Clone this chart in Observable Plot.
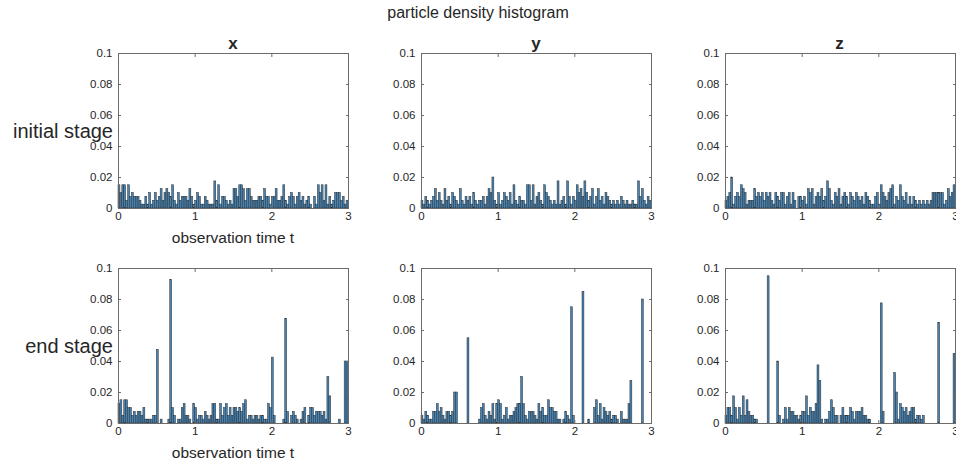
<!DOCTYPE html>
<html><head><meta charset="utf-8">
<script src="https://cdn.jsdelivr.net/npm/d3@7"></script>
<script src="https://cdn.jsdelivr.net/npm/@observablehq/plot@0.6"></script>
<style>
body{margin:0;background:#fff;overflow:hidden}
#wrap{position:relative;width:956px;height:464px;overflow:hidden;font-family:"Liberation Sans",Arial,Helvetica,sans-serif;color:#262626;background:#fff}
.lbl{position:absolute;white-space:nowrap;line-height:1;transform:translate(-50%,-50%)}
.rlbl{position:absolute;white-space:nowrap;line-height:1;transform:translate(-100%,-50%)}
.plt{position:absolute}
</style></head><body><div id="wrap"></div>
<script>
const title = "particle density histogram";
const columns = ["x", "y", "z"];
const rows = ["initial stage", "end stage"];
const xLabel = "observation time t";
const xTicks = [0, 1, 2, 3];
const yTicks = [0, 0.02, 0.04, 0.06, 0.08, 0.1];
const binWidth = 0.025;

const xInitial = [
0.015,0.01,0.015,0.015,0.005,0.015,0.0075,0.01,0.0075,0.0075,
0.0075,0.005,0.0025,0.0025,0.0075,0.0025,0.01,0.0025,0.005,0.01,
0.005,0.0075,0.0125,0.005,0.01,0.0125,0.01,0.0075,0.015,0.005,
0.0025,0.01,0.005,0.0075,0.0075,0.0075,0.005,0.0125,0.0075,0.0025,
0.005,0.01,0.0075,0.0025,0.0025,0.0075,0.005,0.0025,0.0025,0.0025,
0.0175,0.005,0.015,0.0025,0.0075,0.0075,0.005,0.0025,0.005,0.0025,
0.0125,0.0125,0.0075,0.015,0.015,0.0125,0.005,0.0125,0.0125,0.0075,
0.005,0.005,0.005,0.0075,0.0075,0.005,0.0125,0.0075,0.0075,0.0025,
0.0075,0.0075,0.0125,0.005,0.005,0.0075,0.015,0.005,0.0025,0.0075,
0.01,0.0075,0.0025,0.0075,0.01,0.005,0.0075,0.0025,0.005,0.0075,
0.0025,0,0.0075,0.0025,0.015,0.01,0.015,0.005,0.015,0.0025,
0.0075,0.0025,0.005,0.01,0.01,0.01,0.005,0.0075,0.0025,0.005];

const yInitial = [
0.005,0.0025,0.0075,0.005,0.0025,0.005,0.0075,0.0125,0.005,0.01,
0.005,0.0025,0.0125,0.005,0.0075,0.0025,0.01,0.0075,0.005,0.0025,
0.0125,0.005,0.0025,0.0075,0.005,0.0075,0.0025,0.01,0.005,0.0025,
0.005,0.005,0.0075,0.0025,0.0075,0.0125,0.01,0.02,0.005,0.0025,
0.01,0.0025,0.005,0.01,0.0075,0.005,0.01,0.0025,0.015,0.005,
0.0025,0.0075,0.005,0.005,0.0025,0.015,0.015,0.005,0.015,0.0025,
0.0075,0.01,0.005,0.0025,0.015,0.01,0.0075,0.005,0.0025,0.005,
0.0025,0.0175,0.0025,0.005,0.0075,0.0025,0.0175,0.0075,0.0025,0.0075,
0.005,0.015,0.01,0.0125,0.0075,0.0175,0.01,0.005,0.0075,0.0125,
0.0025,0.0075,0.0125,0.005,0.0075,0.0025,0.01,0.0075,0.005,0.0025,
0.005,0.0025,0.005,0.0025,0.0075,0.005,0.0025,0.005,0.0025,0.0025,
0.005,0.0025,0.0025,0.0175,0.0075,0.0125,0.005,0.0025,0.0075,0.005];

const zInitial = [
0.005,0.0075,0.01,0.02,0.0025,0.0075,0.01,0.0075,0.015,0.0125,
0.01,0.0025,0.005,0.005,0.005,0.0125,0.0075,0.01,0.0075,0.01,
0.005,0.01,0.0075,0.01,0.005,0.0025,0.01,0.0075,0.005,0.01,
0.01,0.0025,0.0075,0.01,0.0025,0.01,0.005,0,0.0075,0.0075,
0.005,0.0075,0.0025,0.0125,0.01,0.0125,0.0025,0.0075,0.01,0.0075,
0.0125,0.005,0.0075,0.0175,0.0125,0.005,0.0025,0.01,0.0075,0.0125,
0.0025,0.0075,0.01,0.0075,0.0025,0.01,0.0075,0.005,0.01,0.0075,
0.005,0.0075,0.0025,0.01,0.0075,0.005,0.0025,0.0025,0.0075,0.01,
0.0025,0.015,0.01,0.0075,0.005,0.01,0.0125,0.015,0.0025,0.0075,
0.005,0.015,0.0075,0.005,0.01,0.0025,0.0075,0.0025,0.0075,0.005,
0.0025,0.005,0.0025,0.005,0.0025,0.005,0.0025,0.005,0.01,0.01,
0.01,0.01,0.01,0.01,0.0025,0.005,0.0125,0.0075,0.01,0.015];

const xEnd = [
0.0125,0.015,0.005,0.015,0.015,0.01,0.01,0.005,0.0075,0.005,
0.0075,0.0075,0.005,0.01,0.0025,0.0025,0.0025,0.0025,0.005,0.005,
0.0475,0,0.0025,0,0,0,0.0025,0.0925,0.01,0.005,
0,0.0025,0.0025,0.01,0.0125,0.005,0.005,0.0025,0,0.0125,
0.01,0.0025,0.005,0.005,0.0025,0.0075,0.005,0.0025,0.005,0.0125,
0.0125,0.0025,0.0025,0.0125,0.005,0.01,0.0125,0.005,0.01,0.005,
0.01,0.01,0.0075,0.01,0.0075,0.0125,0.015,0.0025,0.005,0.005,
0.0025,0.005,0.005,0.0025,0.005,0.005,0.0025,0.0025,0.0125,0.01,
0.0425,0.005,0,0,0,0,0.0025,0.0675,0.0075,0,
0.005,0.0075,0.005,0.0025,0,0.0025,0.0075,0.01,0,0.005,
0.01,0.01,0.005,0.0075,0.0075,0.0075,0.005,0.0075,0.0025,0.03,
0.0175,0,0,0,0,0.0025,0,0,0.04,0.04];

const yEnd = [
0.005,0.0025,0.0075,0.005,0.0025,0.0025,0.0075,0.0075,0.0125,0.0075,
0.01,0.005,0.0025,0.0075,0.0075,0.005,0.0075,0.02,0.02,0,
0,0,0,0,0.055,0,0,0,0,0,
0.0025,0.01,0.0125,0.005,0.0025,0.0075,0.005,0.0125,0.0025,0.0125,
0.015,0.0125,0.0025,0.005,0.01,0.0025,0.005,0.005,0.0075,0.01,
0.0125,0.0125,0.03,0.0125,0.005,0.0025,0.0075,0.0075,0.0075,0.005,
0.0025,0.0125,0.0075,0.01,0.005,0.005,0.015,0.01,0.01,0.0075,
0.0075,0.0025,0.0025,0,0.0025,0.0075,0.005,0.0025,0.075,0.005,
0,0,0,0,0.085,0,0,0.0025,0,0,
0.01,0.015,0.005,0.0125,0.0025,0.01,0.0075,0.005,0.0075,0.0025,
0.005,0.005,0.0025,0,0.0075,0.0025,0.0025,0.0025,0.0125,0.0275,
0,0,0,0,0,0.08,0,0,0,0];

const zEnd = [
0.005,0.01,0.01,0.005,0.0175,0.01,0.0025,0.01,0.005,0.0175,
0.005,0.015,0.0075,0.005,0.005,0.0025,0.0025,0,0,0,
0,0,0.095,0,0,0,0,0.04,0.005,0,
0.0025,0.01,0.0025,0.01,0.0075,0.0075,0.005,0.005,0.0025,0.005,
0.0075,0.0075,0.0175,0.005,0.01,0.0075,0.0075,0.0125,0.0375,0.0275,
0.0025,0,0.0025,0.0025,0.0075,0.015,0.01,0.005,0.005,0,
0.005,0.01,0.005,0.005,0.005,0.01,0.0075,0.0025,0.0075,0.0075,
0.0075,0.01,0.005,0.005,0.0025,0.0025,0,0,0,0,
0,0.0775,0.0075,0,0,0,0,0,0.0325,0.02,
0.0025,0.0125,0.01,0.0075,0.01,0.005,0.0075,0.01,0.01,0.0025,
0.005,0.005,0.0025,0.005,0,0,0,0,0,0,
0,0.065,0,0,0,0,0,0,0,0.045];

const series = [[xInitial, yInitial, zInitial], [xEnd, yEnd, zEnd]];

// layout
const colX0 = [118, 421, 724.5];
const rowY0 = [53, 268];
const PW = 230, PH = 155;
const ML = 44, MR = 12, MT = 6, MB = 24;
const FONT = '"Liberation Sans", Arial, Helvetica, sans-serif';
const AX = "#6b6b6b";

const wrap = document.getElementById("wrap");
function addText(txt, x, y, cls, style) {
  const d = document.createElement("div");
  d.className = cls; d.textContent = txt;
  d.style.left = x + "px"; d.style.top = y + "px";
  Object.assign(d.style, style || {});
  wrap.appendChild(d);
}

function panel(values) {
  const data = values.map((v, i) => ({x1: i * binWidth, x2: (i + 1) * binWidth, v})).filter(d => d.v > 0);
  const yfmt = d => String(+d.toFixed(2));
  return Plot.plot({
    width: ML + PW + MR, height: MT + PH + MB,
    marginLeft: ML, marginRight: MR, marginTop: MT, marginBottom: MB,
    x: {domain: [0, 3]}, y: {domain: [0, 0.1]},
    style: {fontFamily: FONT, fontSize: "11.5px", color: "#262626", background: "transparent", overflow: "visible"},
    marks: [
      Plot.rectY(data, {x1: "x1", x2: "x2", y: "v", fill: "#4383b5", stroke: "#2e2e2e", strokeWidth: 0.5}),
      Plot.frame({stroke: AX}),
      Plot.axisX({ticks: xTicks, tickSize: 0, tickPadding: 3, tickFormat: d => String(d), label: null}),
      Plot.axisX({ticks: xTicks, tickSize: -3, text: null, label: null, anchor: "bottom", stroke: AX}),
      Plot.axisX({ticks: xTicks, tickSize: -3, text: null, label: null, anchor: "top", stroke: AX}),
      Plot.axisY({ticks: yTicks, tickSize: 0, tickPadding: 6, tickFormat: yfmt, label: null}),
      Plot.axisY({ticks: yTicks, tickSize: -3, text: null, label: null, anchor: "left", stroke: AX}),
      Plot.axisY({ticks: yTicks, tickSize: -3, text: null, label: null, anchor: "right", stroke: AX})
    ]
  });
}

rows.forEach((r, ri) => {
  columns.forEach((c, ci) => {
    const svg = panel(series[ri][ci]);
    svg.classList.add("plt");
    svg.style.left = (colX0[ci] - ML) + "px";
    svg.style.top = (rowY0[ri] - MT) + "px";
    wrap.appendChild(svg);
  });
  addText(r, 113, rowY0[ri] + 78, "rlbl", {fontSize: "20px"});
  addText(xLabel, colX0[0] + PW / 2, rowY0[ri] + PH + 30, "lbl", {fontSize: "15.5px"});
});
columns.forEach((c, ci) => addText(c, colX0[ci] + PW / 2, 43, "lbl", {fontSize: "17px", fontWeight: "bold"}));
addText(title, 478, 13, "lbl", {fontSize: "16px"});
</script></body></html>
